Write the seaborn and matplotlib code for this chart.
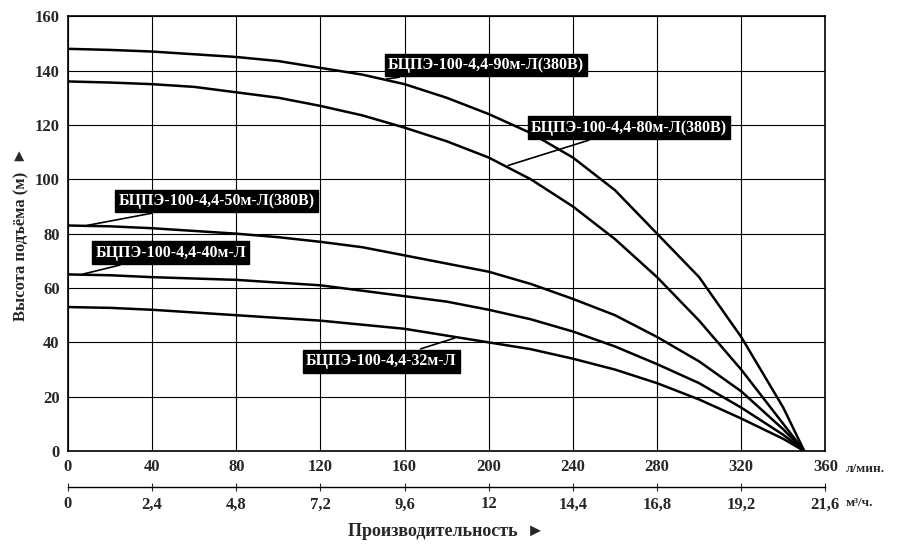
import matplotlib
matplotlib.use("Agg")
import matplotlib.pyplot as plt
import seaborn as sns
import pandas as pd
import numpy as np

flow = [0, 20, 40, 60, 80, 100, 120, 140, 160, 180, 200, 220, 240, 260, 280, 300, 320, 340, 350]
h90 = [148, 147.6, 147, 146, 145, 143.5, 141, 138.5, 135, 130, 124, 117, 108, 96, 80, 64, 42, 16, 0]
h80 = [136, 135.6, 135, 134, 132, 130, 127, 123.5, 119, 114, 108, 100, 90, 78, 64, 48, 30, 10, 0]
h50 = [83, 82.7, 82, 81, 80, 78.7, 77, 75, 72, 69, 66, 61.5, 56, 50, 42, 33, 22, 8, 0]
h40 = [65, 64.7, 64, 63.5, 63, 62, 61, 59, 57, 55, 52, 48.5, 44, 38.5, 32, 25, 16, 6, 0]
h32 = [53, 52.7, 52, 51, 50, 49, 48, 46.5, 45, 42.5, 40, 37.5, 34, 30, 25, 19, 12, 4.5, 0]
names = ["БЦПЭ-100-4,4-90м-Л(380В)", "БЦПЭ-100-4,4-80м-Л(380В)", "БЦПЭ-100-4,4-50м-Л(380В)",
         "БЦПЭ-100-4,4-40м-Л", "БЦПЭ-100-4,4-32м-Л"]
heads = [h90, h80, h50, h40, h32]
x_ticks = [0, 40, 80, 120, 160, 200, 240, 280, 320, 360]
m3_labels = ["0", "2,4", "4,8", "7,2", "9,6", "12", "14,4", "16,8", "19,2", "21,6"]
y_ticks = [0, 20, 40, 60, 80, 100, 120, 140, 160]

# label box: (anchor flow on curve, text position flow, text position head)
label_pos = [(150, 152, 142), (208, 220, 119), (8, 24, 92), (6, 13, 73), (185, 113, 33)]

sns.set_style("white")
plt.rcParams["font.family"] = ["Liberation Serif", "DejaVu Serif"]

rows = []
for n, h in zip(names, heads):
    for f, v in zip(flow, h):
        rows.append({"flow": f, "head": v, "pump": n})
df = pd.DataFrame(rows)

fig = plt.figure(figsize=(9.06, 5.59), dpi=100)
ax = fig.add_axes([0.075, 0.193, 0.836, 0.778])
sns.lineplot(data=df, x="flow", y="head", units="pump", estimator=None,
             color="black", lw=1.8, ax=ax, legend=False)
ax.set_xlim(0, 360)
ax.set_ylim(0, 160)
ax.set_xticks(x_ticks)
ax.set_yticks(y_ticks)
ax.grid(True, color="black", lw=0.8)
for s in ax.spines.values():
    s.set_color("black")
    s.set_linewidth(1.2)
ax.tick_params(labelsize=12, length=0, pad=6)
for t in ax.get_xticklabels() + ax.get_yticklabels():
    t.set_fontweight("bold")
ax.set_xlabel("")
ax.set_ylabel("Высота подъёма (м)  ►", fontsize=12, fontweight="bold")

sec = ax.secondary_xaxis(-0.082)
sec.set_xticks(x_ticks)
sec.set_xticklabels(m3_labels, fontsize=12, fontweight="bold")
sec.tick_params(direction="inout", length=6, pad=4)
sec.spines["bottom"].set_color("black")
sec.spines["bottom"].set_linewidth(1.0)
ax.text(1.027, -0.042, "л/мин.", transform=ax.transAxes, fontsize=9.5, fontweight="bold", va="center")
ax.text(1.027, -0.12, "м³/ч.", transform=ax.transAxes, fontsize=9.5, fontweight="bold", va="center")
ax.text(0.5, -0.185, "Производительность  ►", transform=ax.transAxes, fontsize=13,
        fontweight="bold", ha="center", va="center")

for (n, h), (af, tx, ty) in zip(zip(names, heads), label_pos):
    ay = np.interp(af, flow, h)
    ax.annotate(n, xy=(af, ay), xytext=(tx, ty), fontsize=11.5, fontweight="bold",
                color="white", va="center", ha="left",
                bbox=dict(boxstyle="square,pad=0.2", fc="black", ec="black"),
                arrowprops=dict(arrowstyle="-", color="black", lw=1.2))

fig.savefig("out.png", dpi=100, facecolor="white")
